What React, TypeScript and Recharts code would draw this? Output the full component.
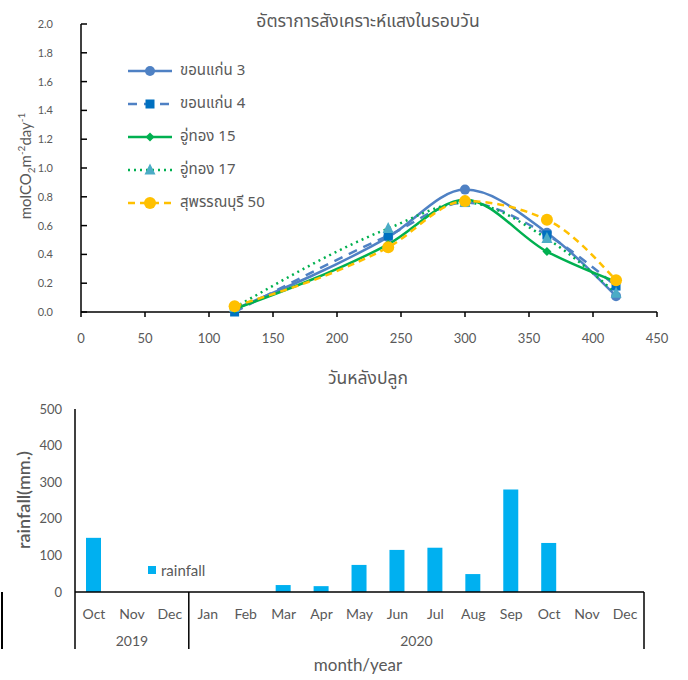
import { LineChart, Line, XAxis, YAxis, Legend, BarChart, Bar } from 'recharts';

const days = [120, 240, 300, 364, 418];
const khonKaen3 = [0.02, 0.52, 0.85, 0.55, 0.11];
const khonKaen4 = [0.0, 0.53, 0.76, 0.535, 0.18];
const uThong15 = [0.02, 0.47, 0.78, 0.42, 0.21];
const uThong17 = [0.03, 0.58, 0.76, 0.51, 0.13];
const suphan50 = [0.04, 0.45, 0.77, 0.64, 0.22];
const dayTicks = [0, 50, 100, 150, 200, 250, 300, 350, 400, 450];
const rateTicks = [0, 0.2, 0.4, 0.6, 0.8, 1.0, 1.2, 1.4, 1.6, 1.8, 2.0];

const months = ['Oct', 'Nov', 'Dec', 'Jan', 'Feb', 'Mar', 'Apr', 'May', 'Jun', 'Jul', 'Aug', 'Sep', 'Oct', 'Nov', 'Dec'];
const years = ['2019', '2019', '2019', '2020', '2020', '2020', '2020', '2020', '2020', '2020', '2020', '2020', '2020', '2020', '2020'];
const rainfall = [148, 0, 0, 0, 0, 19, 16, 74, 115, 121, 49, 280, 134, 0, 0];
const rainTicks = [0, 100, 200, 300, 400, 500];

const GRAY = '#595959';
const FONT = 'Lato, "Noto Sans", sans-serif';
const THAI = '"Noto Sans Thai", Tahoma, "Leelawadee UI", Lato, sans-serif';

type Shape = 'circle' | 'square' | 'diamond' | 'triangle';
interface SeriesDef {
  key: string;
  name: string;
  values: number[];
  color: string;
  markerColor: string;
  dash?: string;
  shape: Shape;
  size: number;
}

const series: SeriesDef[] = [
  { key: 'kk3', name: 'ขอนแก่น 3', values: khonKaen3, color: '#4F81C4', markerColor: '#4F81C4', shape: 'circle', size: 5 },
  { key: 'kk4', name: 'ขอนแก่น 4', values: khonKaen4, color: '#4F81C4', markerColor: '#0070C0', dash: '9 7', shape: 'square', size: 4.5 },
  { key: 'ut15', name: 'อู่ทอง 15', values: uThong15, color: '#00B050', markerColor: '#00B050', shape: 'diamond', size: 4.5 },
  { key: 'ut17', name: 'อู่ทอง 17', values: uThong17, color: '#00B050', markerColor: '#4BACC6', dash: '2 4', shape: 'triangle', size: 5.5 },
  { key: 'sp50', name: 'สุพรรณบุรี 50', values: suphan50, color: '#FFC000', markerColor: '#FFC000', dash: '7 5', shape: 'circle', size: 6 },
];

const lineData = days.map((d, i) => {
  const row: Record<string, number> = { day: d };
  series.forEach((s) => (row[s.key] = s.values[i]));
  return row;
});

const barData = months.map((m, i) => ({ month: m, year: years[i], rain: rainfall[i] }));

function marker(shape: Shape, cx: number, cy: number, r: number, fill: string, key?: string | number) {
  if (shape === 'circle') return <circle key={key} cx={cx} cy={cy} r={r} fill={fill} />;
  if (shape === 'square') return <rect key={key} x={cx - r} y={cy - r} width={r * 2} height={r * 2} fill={fill} />;
  if (shape === 'diamond')
    return <polygon key={key} points={`${cx},${cy - r} ${cx + r},${cy} ${cx},${cy + r} ${cx - r},${cy}`} fill={fill} />;
  return <polygon key={key} points={`${cx},${cy - r * 1.2} ${cx + r},${cy + r * 0.8} ${cx - r},${cy + r * 0.8}`} fill={fill} />;
}

function dotFor(s: SeriesDef) {
  return (props: any) => marker(s.shape, props.cx, props.cy, s.size, s.markerColor, props.index);
}

function PhotoLegend() {
  return (
    <div style={{ display: 'flex', flexDirection: 'column' }}>
      {series.map((s) => (
        <div key={s.key} style={{ display: 'flex', alignItems: 'center', height: 33 }}>
          <svg width={46} height={16}>
            <line x1={1} x2={45} y1={8} y2={8} stroke={s.color} strokeWidth={2.5} strokeDasharray={s.dash} />
            {marker(s.shape, 23, 8, s.size, s.markerColor)}
          </svg>
          <span style={{ marginLeft: 7, color: GRAY, fontSize: 15, fontFamily: THAI }}>{s.name}</span>
        </div>
      ))}
    </div>
  );
}

function RainLegend() {
  return (
    <div style={{ display: 'flex', alignItems: 'center', color: GRAY, fontSize: 15, fontFamily: FONT }}>
      <span style={{ width: 8, height: 8, background: '#00B0F0', marginRight: 5, display: 'inline-block' }} />
      rainfall
    </div>
  );
}

const BAR_LEFT = 75;
const BAR_RIGHT = 644;
const BAND = (BAR_RIGHT - BAR_LEFT) / months.length;

function MonthTick(props: any) {
  const { x, y, payload } = props;
  const i: number = payload.index;
  const left = x - BAND / 2;
  const first = i === 0 || years[i] !== years[i - 1];
  const last = i === months.length - 1;
  let groupLen = 0;
  if (first) {
    while (i + groupLen < years.length && years[i + groupLen] === years[i]) groupLen++;
  }
  return (
    <g>
      <text x={x} y={y + 21} textAnchor="middle" dominantBaseline="central" fill={GRAY} fontSize={14} fontFamily={FONT}>
        {payload.value}
      </text>
      {first && <line x1={left} x2={left} y1={y} y2={y + 57} stroke="#000" strokeWidth={1.5} />}
      {first && (
        <text x={left + (groupLen * BAND) / 2} y={y + 48} textAnchor="middle" dominantBaseline="central" fill={GRAY} fontSize={14} fontFamily={FONT}>
          {years[i]}
        </text>
      )}
      {last && <line x1={x + BAND / 2} x2={x + BAND / 2} y1={y} y2={y + 57} stroke="#000" strokeWidth={1.5} />}
    </g>
  );
}

const sub = { fontSize: 10, position: 'relative' as const, top: 4 };
const sup = { fontSize: 10, position: 'relative' as const, top: -6 };

export default function App() {
  return (
    <div style={{ position: 'absolute', left: 0, top: 0, width: 688, height: 680, background: '#fff', fontFamily: FONT }}>
      <div style={{ position: 'absolute', left: 0, top: 0 }}>
        <LineChart width={688} height={390} data={lineData} margin={{ top: 24, right: 31, left: 0, bottom: 38 }}>
          <XAxis
            type="number"
            dataKey="day"
            domain={[0, 450]}
            ticks={dayTicks}
            interval={0}
            tick={{ fontSize: 13, fill: GRAY, fontFamily: FONT }}
            axisLine={{ stroke: '#000', strokeWidth: 1.5 }}
            tickLine={{ stroke: '#000', strokeWidth: 1.5 }}
            tickSize={5}
            tickMargin={17}
            height={40}
          />
          <YAxis
            type="number"
            domain={[0, 2]}
            ticks={rateTicks}
            interval={0}
            width={81}
            tickFormatter={(v: number) => v.toFixed(1)}
            tick={{ fontSize: 11, fill: GRAY, fontFamily: FONT }}
            axisLine={{ stroke: '#000', strokeWidth: 1.5 }}
            tickLine={{ stroke: '#000', strokeWidth: 1.5 }}
            tickSize={-6}
            tickMargin={34}
          />
          <Legend
            layout="horizontal"
            align="center"
            verticalAlign="middle"
            content={() => <PhotoLegend />}
            wrapperStyle={{ position: 'absolute', left: 127, top: 54, width: 'auto', height: 'auto' }}
          />
          {series.map((s) => (
            <Line
              key={s.key}
              type="monotone"
              dataKey={s.key}
              name={s.name}
              stroke={s.color}
              strokeWidth={2.5}
              strokeDasharray={s.dash}
              dot={dotFor(s)}
              activeDot={false}
              isAnimationActive={false}
            />
          ))}
        </LineChart>
      </div>
      <div style={{ position: 'absolute', left: 203, top: 8, width: 330, textAlign: 'center', color: GRAY, fontSize: 17.5, fontFamily: THAI }}>
        อัตราการสังเคราะห์แสงในรอบวัน
      </div>
      <div style={{ position: 'absolute', left: 268, top: 365, width: 200, textAlign: 'center', color: GRAY, fontSize: 17.5, fontFamily: THAI }}>
        วันหลังปลูก
      </div>
      <div
        style={{
          position: 'absolute',
          left: 25 - 80,
          top: 166 - 10,
          width: 160,
          height: 20,
          lineHeight: '20px',
          textAlign: 'center',
          transform: 'rotate(-90deg)',
          color: GRAY,
          fontSize: 15,
          fontFamily: FONT,
          whiteSpace: 'nowrap',
        }}
      >
        molCO<span style={sub}>2</span>m<span style={sup}>-2</span>day<span style={sup}>-1</span>
      </div>

      <div style={{ position: 'absolute', left: 0, top: 380 }}>
        <BarChart width={688} height={300} data={barData} margin={{ top: 29, right: 688 - BAR_RIGHT, left: 0, bottom: 28 }}>
          <XAxis
            dataKey="month"
            interval={0}
            tick={<MonthTick />}
            tickLine={false}
            tickSize={0}
            tickMargin={0}
            axisLine={{ stroke: '#000', strokeWidth: 1.5 }}
            height={60}
          />
          <YAxis
            domain={[0, 500]}
            ticks={rainTicks}
            interval={0}
            width={BAR_LEFT}
            tick={{ fontSize: 13, fill: GRAY, fontFamily: FONT }}
            tickLine={false}
            tickSize={0}
            tickMargin={13}
            axisLine={{ stroke: '#000', strokeWidth: 1.5 }}
          />
          <Legend
            layout="horizontal"
            align="center"
            verticalAlign="middle"
            content={() => <RainLegend />}
            wrapperStyle={{ position: 'absolute', left: 148, top: 181, width: 'auto', height: 'auto' }}
          />
          <Bar dataKey="rain" name="rainfall" fill="#00B0F0" barSize={15} isAnimationActive={false} />
        </BarChart>
      </div>
      <div
        style={{
          position: 'absolute',
          left: 23 - 70,
          top: 500 - 11,
          width: 140,
          height: 22,
          lineHeight: '22px',
          textAlign: 'center',
          transform: 'rotate(-90deg)',
          color: GRAY,
          fontSize: 18,
          fontWeight: 600,
          fontFamily: FONT,
        }}
      >
        rainfall(mm.)
      </div>
      <div style={{ position: 'absolute', left: 258, top: 654, width: 200, textAlign: 'center', color: GRAY, fontSize: 17, fontFamily: FONT }}>
        month/year
      </div>
      <div style={{ position: 'absolute', left: 1, top: 592, width: 1.5, height: 57, background: '#000' }} />
    </div>
  );
}
